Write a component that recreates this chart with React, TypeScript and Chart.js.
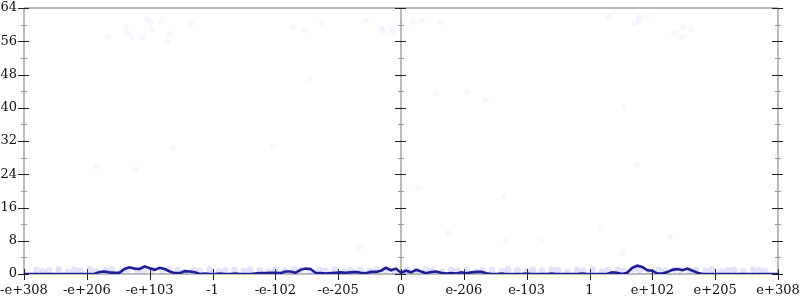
import React, { useEffect, useRef } from "react";
import { Chart, registerables } from "chart.js";

Chart.register(...registerables);

// tick labels for x units -6..6
const xTickLabels = [
  "-e+308", "-e+206", "-e+103", "-1", "-e-102", "-e-205", "0",
  "e-206", "e-103", "1", "e+102", "e+205", "e+308",
];
const yTicks = [0, 8, 16, 24, 32, 40, 48, 56, 64];

// histogram line: bins evenly spread over x -6..6 (151 bins)
const lineValues = [
  0, 0, 0, 0, 0, 0, 0, 0, 0, 0, 0, 0, 0, 0, 0,
  0.5, 0.6, 0.4, 0.3, 0.3,
  1.2, 1.6, 1.3, 1.2, 1.8, 1.4, 1.0, 1.5, 1.2, 0.6,
  0.2, 0.2, 0.7, 0.6, 0.4,
  0, 0.1, 0, 0, 0.1, 0, 0, 0.1, 0, 0, 0, 0.1, 0.2, 0.2,
  0.3, 0.3, 0.2, 0.6, 0.6, 0.3, 1.0, 1.3, 1.2, 0.3,
  0.2, 0.1, 0.2, 0.3, 0.4, 0.3, 0.4, 0.5, 0.3, 0.2,
  0.5, 0.5, 0.8, 1.5, 0.9, 1.3, 0.3, 0.8, 0.4, 1.0,
  0.6, 0.2, 0.5, 0.6, 0.3, 0.1, 0.2, 0.1, 0.4, 0.2,
  0.4, 0.5, 0.5, 0.2,
  0, 0, 0.1, 0, 0, 0, 0, 0.1, 0, 0, 0, 0, 0.1, 0, 0, 0, 0, 0, 0.1, 0, 0, 0, 0, 0,
  0.4, 0.3, 0, 0.3, 1.5, 2.0, 1.7, 0.9, 0.8, 0.1,
  0.1, 0.5, 1.0, 1.2, 0.9, 1.3, 0.8, 0.3,
  0, 0, 0, 0, 0, 0, 0, 0, 0, 0, 0, 0, 0, 0, 0, 0,
];

// faint scattered samples (outliers)
const pointX = [
  -4.66, -4.38, -4.35, -4.28, -4.12, -4.04, -3.99, -3.96, -3.82, -3.69, -3.72, -3.34,
  -0.56, -0.30, -0.29, -0.16, -0.13, 0.02, 0.19, 0.33, 0.64,
  3.31, 3.80, 3.90, 3.72, 3.79, 4.49, 4.62, 4.35, 4.46,
  -1.72, -1.53, -1.26,
  -4.85, -4.22, -3.63, -2.04, -1.46, 0.56, 1.05, 1.34, 1.64, 2.23, 3.55, 3.76,
  -0.67, 0.75, 1.67, 3.18, 3.53, 4.28, 0.27,
];
const pointY = [
  57.0, 59.4, 58.0, 57.0, 57.0, 61.4, 60.6, 58.9, 60.9, 57.7, 55.8, 60.4,
  60.9, 59.2, 58.5, 59.2, 58.2, 60.4, 60.6, 60.9, 60.6,
  61.8, 61.8, 61.8, 60.4, 60.9, 59.4, 58.9, 58.0, 57.0,
  59.4, 58.7, 60.4,
  26.0, 25.0, 30.3, 30.6, 46.7, 43.5, 43.8, 41.9, 18.5, 8.2, 40.2, 26.2,
  6.5, 9.9, 7.9, 10.8, 5.1, 8.9, 20.9,
];

// dense band of samples near the bottom
const bandX = [
  -5.8, -5.7, -5.6, -5.45, -5.3, -5.2, -5.1, -4.95, -4.85, -4.7, -4.6, -4.45, -4.35, -4.2,
  -4.1, -3.95, -3.8, -3.7, -3.55, -3.45, -3.3, -3.2, -3.05, -2.9, -2.8, -2.65, -2.5, -2.4,
  -2.25, -2.1, -2.0, -1.85, -1.7, -1.6, -1.45, -1.3, -1.2, -1.05, -0.9, -0.8, -0.65, -0.5,
  -0.4, -0.25, -0.1, 0.1, 0.25, 0.4, 0.5, 0.65, 0.8, 0.9, 1.05, 1.2, 1.3, 1.45, 1.6, 1.7,
  1.85, 2.0, 2.1, 2.25, 2.4, 2.5, 2.65, 2.8, 2.9, 3.05, 3.2, 3.3, 3.45, 3.55, 3.7, 3.8,
  3.95, 4.1, 4.2, 4.35, 4.45, 4.6, 4.7, 4.85, 4.95, 5.1, 5.2, 5.3, 5.45, 5.6, 5.7, 5.8,
];
const bandY = [
  1.0, 0.6, 0.9, 1.1, 0.5, 1.0, 0.8, 1.1, 0.6, 0.9, 1.0, 0.7, 1.1, 0.9,
  0.6, 1.0, 0.8, 1.1, 0.9, 0.5, 1.0, 0.8, 1.1, 0.6, 0.9, 1.0, 0.7, 1.1,
  0.9, 0.6, 1.0, 0.8, 1.1, 0.9, 0.5, 1.0, 0.8, 1.1, 0.6, 0.9, 1.0, 0.7,
  1.1, 0.9, 0.6, 1.0, 0.8, 1.1, 0.9, 0.5, 1.0, 0.8, 1.1, 0.6, 0.9, 1.0, 0.7, 1.1,
  0.9, 0.6, 1.0, 0.8, 1.1, 0.9, 0.5, 1.0, 0.8, 1.1, 0.6, 0.9, 1.0, 0.7, 1.1, 0.9,
  0.6, 1.0, 0.8, 1.1, 0.9, 0.5, 1.0, 0.8, 1.1, 0.6, 0.9, 1.0, 0.7, 1.1, 0.9, 0.6,
];

const axesDeco = {
  id: "axesDeco",
  beforeDatasetsDraw(chart: any) {
    const { ctx, chartArea, scales } = chart;
    const xs = scales.x;
    const ys = scales.y;
    ctx.save();
    ctx.strokeStyle = "#bbbbbb";
    ctx.lineWidth = 2;
    ctx.beginPath();
    ctx.moveTo(chartArea.left, ys.getPixelForValue(64));
    ctx.lineTo(chartArea.right, ys.getPixelForValue(64));
    ctx.moveTo(chartArea.left, ys.getPixelForValue(0));
    ctx.lineTo(chartArea.right, ys.getPixelForValue(0));
    [-6, 0, 6].forEach((u) => {
      const px = Math.round(xs.getPixelForValue(u));
      ctx.moveTo(px, ys.getPixelForValue(64));
      ctx.lineTo(px, ys.getPixelForValue(0));
    });
    ctx.stroke();
    [-6, 0, 6].forEach((u) => {
      const px = Math.round(xs.getPixelForValue(u));
      ctx.lineWidth = 1;
      ctx.strokeStyle = "#222222";
      ctx.beginPath();
      yTicks.forEach((v) => {
        const py = Math.round(ys.getPixelForValue(v)) + 0.5;
        ctx.moveTo(px - 6, py);
        ctx.lineTo(px + 5, py);
      });
      ctx.stroke();
      ctx.strokeStyle = "#999999";
      ctx.beginPath();
      for (let i = 0; i < yTicks.length - 1; i++) {
        const py = Math.round(ys.getPixelForValue((yTicks[i] + yTicks[i + 1]) / 2)) + 0.5;
        ctx.moveTo(px - 3, py);
        ctx.lineTo(px + 3, py);
      }
      ctx.stroke();
    });
    ctx.strokeStyle = "#222222";
    ctx.lineWidth = 1;
    ctx.beginPath();
    const by = ys.getPixelForValue(0);
    xTickLabels.forEach((_, i) => {
      const px = Math.round(xs.getPixelForValue(i - 6)) + 0.5;
      ctx.moveTo(px, by - 5);
      ctx.lineTo(px, by + 6);
    });
    ctx.stroke();
    ctx.restore();
  },
};

export default function App() {
  const ref = useRef<HTMLCanvasElement | null>(null);
  useEffect(() => {
    document.body.style.margin = "0";
    const canvas = ref.current;
    if (!canvas) return;
    const n = lineValues.length;
    const lineData = lineValues.map((v, i) => ({ x: -6 + (12 * i) / (n - 1), y: v }));
    const ptData = pointX.map((x, i) => ({ x, y: pointY[i] }));
    const bandData = bandX.map((x, i) => ({ x, y: bandY[i] }));
    const font = { family: "'DejaVu Serif', serif", size: 13 };
    const chart = new Chart(canvas, {
      type: "line",
      data: {
        datasets: [
          {
            data: lineData,
            borderColor: "#1e1e98",
            borderWidth: 2.6,
            pointRadius: 0,
            tension: 0,
            fill: false,
            order: 0,
          },
          {
            data: ptData,
            showLine: false,
            pointRadius: 2.5,
            pointBackgroundColor: "rgba(120,120,255,0.05)",
            pointBorderColor: "rgba(120,120,255,0.06)",
            pointBorderWidth: 1,
            order: 1,
          },
          {
            data: bandData,
            showLine: false,
            pointRadius: 3,
            pointBackgroundColor: "rgba(110,110,255,0.18)",
            pointBorderColor: "rgba(110,110,255,0.1)",
            pointBorderWidth: 1,
            order: 2,
          },
        ],
      },
      options: {
        animation: false,
        responsive: false,
        devicePixelRatio: 1,
        layout: { padding: { top: 8, right: 22, left: 0, bottom: 0 } },
        plugins: { legend: { display: false }, tooltip: { enabled: false } },
        scales: {
          x: {
            type: "linear",
            min: -6,
            max: 6,
            grid: { display: false, drawTicks: false },
            border: { display: false },
            ticks: {
              stepSize: 1,
              padding: 9,
              color: "#111",
              font,
              maxRotation: 0,
              autoSkip: false,
              callback: (v: any) => xTickLabels[Math.round(Number(v)) + 6] ?? "",
            },
            afterFit: (s: any) => {
              s.height = 26;
              s.paddingLeft = 0;
              s.paddingRight = 0;
            },
          },
          y: {
            min: 0,
            max: 64,
            grid: { display: false, drawTicks: false },
            border: { display: false },
            ticks: { stepSize: 8, padding: 7, color: "#111", font },
            afterFit: (s: any) => {
              s.width = 24;
              s.paddingTop = 0;
              s.paddingBottom = 0;
            },
          },
        },
      },
      plugins: [axesDeco],
    } as any);
    return () => chart.destroy();
  }, []);
  return (
    <div style={{ width: 800, height: 300 }}>
      <canvas ref={ref} width={800} height={300} />
    </div>
  );
}
